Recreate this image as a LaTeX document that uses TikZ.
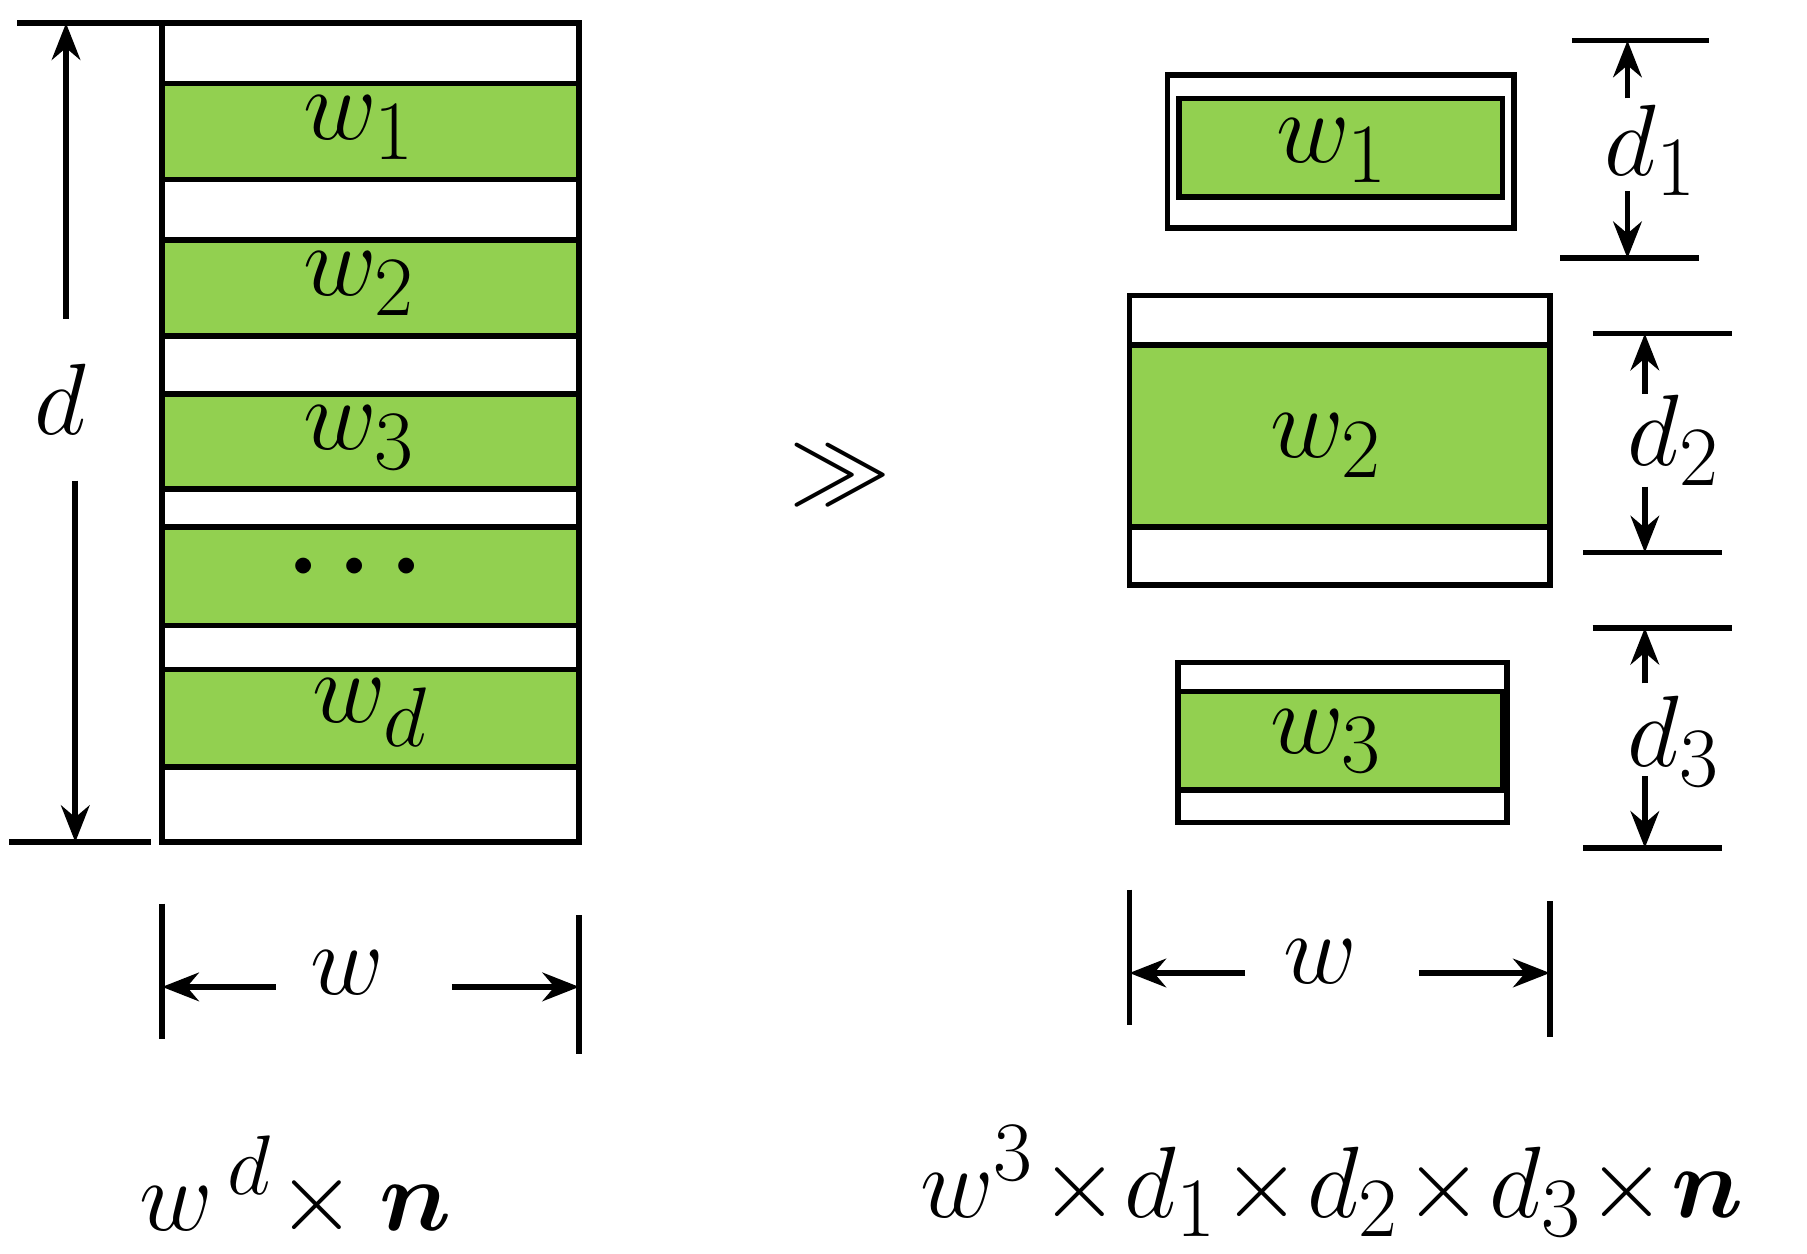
\documentclass[tikz,border=0pt]{standalone}
\usepackage{amsmath,bm}
\usetikzlibrary{arrows.meta}
\tikzset{
  frame/.style={draw,line width=1.4pt},
  dim/.style={line width=1.4pt},
  dimarrow/.style={line width=1.4pt,-{Stealth[length=9pt,width=7pt]}},
  lab/.style={font=\fontsize{30}{32}\selectfont}
}
\definecolor{bandgreen}{RGB}{146,208,80}
\begin{document}
\begin{tikzpicture}[x=0.01cm,y=-0.01cm]
\useasboundingbox (0,0) rectangle (1560,1082);

% left stack
\draw[frame] (140,20) rectangle (500,727);
\foreach \a/\b in {72/155,207/290,340/422,455/540,578/662}
  \draw[frame,fill=bandgreen] (140,\a) rectangle (500,\b);
\node[lab] (lw1) at (310,110) {$w_1$};
\node[lab] (lw2) at (310,245) {$w_2$};
\node[lab] (lw3) at (310,378) {$w_3$};
\node[lab] (ldots) at (315,490) {$\bm{\cdots}$};
\node[lab] (lwd) at (320,615) {$w_d$};

% left height
\draw[dim] (15,20) -- (140,20);
\draw[dim] (8,727) -- (130,727);
\node[lab] (ld) at (52,345) {$d$};
\coordinate (ldtop) at (57,20);
\coordinate (ldbot) at (65,727);
\draw[dimarrow] (57,275) -- (ldtop);
\draw[dimarrow] (65,415) -- (ldbot);

% left width
\draw[dim] (140,780) -- (140,897);
\draw[dim] (500,790) -- (500,910);
\node[lab] (lw) at (300,840) {$w$};
\coordinate (lwl) at (140,852);
\coordinate (lwr) at (500,852);
\draw[dimarrow] (238,852) -- (lwl);
\draw[dimarrow] (390,852) -- (lwr);
\node[lab] (lform) at (255,1025) {$w^{\,d}\!\times\bm{n}$};

\node[lab] (gg) at (725,410) {$\gg$};

% right box 1
\draw[frame] (1008,65) rectangle (1307,197);
\draw[frame,fill=bandgreen] (1018,85) rectangle (1297,170);
\node[lab] (rw1) at (1150,130) {$w_1$};
\draw[dim] (1357,35) -- (1475,35);
\draw[dim] (1347,223) -- (1467,223);
\coordinate (d1t) at (1405,35);
\coordinate (d1b) at (1405,223);
\draw[dimarrow] (1405,85) -- (d1t);
\draw[dimarrow] (1405,165) -- (d1b);
\node[lab] (rd1) at (1425,130) {$d_1$};

% right box 2
\draw[frame] (975,255) rectangle (1338,505);
\draw[frame,fill=bandgreen] (975,298) rectangle (1338,455);
\node[lab] (rw2) at (1145,385) {$w_2$};
\draw[dim] (1375,288) -- (1495,288);
\draw[dim] (1367,477) -- (1487,477);
\coordinate (d2t) at (1420,288);
\coordinate (d2b) at (1420,477);
\draw[dimarrow] (1420,340) -- (d2t);
\draw[dimarrow] (1420,420) -- (d2b);
\node[lab] (rd2) at (1445,380) {$d_2$};

% right box 3
\draw[frame] (1017,572) rectangle (1301,710);
\draw[frame,fill=bandgreen] (1017,597) rectangle (1297,682);
\node[lab] (rw3) at (1145,640) {$w_3$};
\draw[dim] (1375,542) -- (1495,542);
\draw[dim] (1367,732) -- (1487,732);
\coordinate (d3t) at (1420,542);
\coordinate (d3b) at (1420,732);
\draw[dimarrow] (1420,590) -- (d3t);
\draw[dimarrow] (1420,670) -- (d3b);
\node[lab] (rd3) at (1445,640) {$d_3$};

% right width
\draw[dim] (975,768) -- (975,885);
\draw[dim] (1338,778) -- (1338,895);
\node[lab] (rw) at (1140,830) {$w$};
\coordinate (rwl) at (975,840);
\coordinate (rwr) at (1338,840);
\draw[dimarrow] (1075,840) -- (rwl);
\draw[dimarrow] (1225,840) -- (rwr);
\node[lab] (rform) at (1150,1020) {$w^3\!\times\! d_1\!\times\! d_2\!\times\! d_3\!\times\!\bm{n}$};
\end{tikzpicture}
\end{document}
